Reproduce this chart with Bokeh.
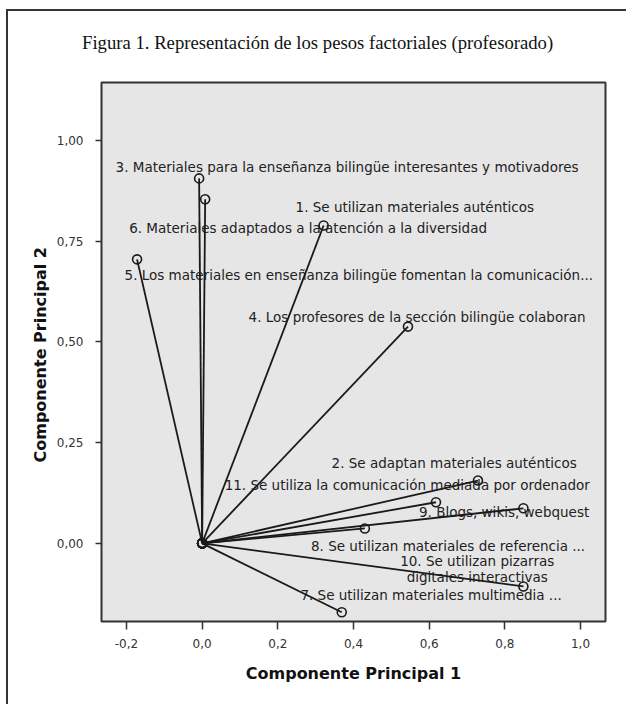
from bokeh.plotting import figure
from bokeh.models import Range1d, FixedTicker, ColumnDataSource, Div
from bokeh.layouts import column
from bokeh.embed import file_html
from bokeh.resources import INLINE
from bokeh.core.properties import value

# ---- data ----
item_labels = [
    "1. Se utilizan materiales auténticos",
    "2. Se adaptan materiales auténticos",
    "3. Materiales para la enseñanza bilingüe interesantes y motivadores",
    "4. Los profesores de la sección bilingüe colaboran",
    "5. Los materiales en enseñanza bilingüe fomentan la comunicación...",
    "6. Materiales adaptados a la atención a la diversidad",
    "7. Se utilizan materiales multimedia ...",
    "8. Se utilizan materiales de referencia ...",
    "9. Blogs, wikis, webquest",
    "10. Se utilizan pizarras\ndigitales interactivas",
    "11. Se utiliza la comunicación mediada por ordenador",
]
comp1 = [0.321, 0.729, -0.008, 0.544, -0.172, 0.008, 0.369, 0.430, 0.849, 0.849, 0.618]
comp2 = [0.789, 0.156, 0.906, 0.538, 0.705, 0.854, -0.171, 0.037, 0.087, -0.107, 0.102]

# label anchor positions (layout, in data units)
label_x = [0.562, 0.666, 0.383, 0.568, 0.414, 0.280, 0.605, 0.650, 0.798, 0.727, 0.542]
label_y = [0.834, 0.199, 0.933, 0.561, 0.665, 0.784, -0.129, -0.007, 0.077, -0.063, 0.146]

x_ticks = [-0.2, 0.0, 0.2, 0.4, 0.6, 0.8, 1.0]
x_tick_labels = ["-0,2", "0,0", "0,2", "0,4", "0,6", "0,8", "1,0"]
y_ticks = [0.0, 0.25, 0.5, 0.75, 1.0]
y_tick_labels = ["0,00", "0,25", "0,50", "0,75", "1,00"]

title_text = "Figura 1. Representación de los pesos factoriales (profesorado)"
x_title = "Componente Principal 1"
y_title = "Componente Principal  2"

# ---- title block ----
title_div = Div(
    width=608, height=59,
    text=('<div style="padding-top:18px;padding-left:69px;'
          "font-family:'Liberation Serif';font-size:18.7px;color:#111111;"
          'white-space:nowrap;line-height:1;margin:0">' + title_text + '</div>'),
)

# ---- figure ----
p = figure(
    width=618, height=624,
    output_backend="svg", toolbar_location=None,
    x_range=Range1d(-0.266, 1.066), y_range=Range1d(-0.194, 1.144),
    min_border_left=93, min_border_right=21, min_border_top=2, min_border_bottom=83,
)

p.background_fill_color = "#e6e6e6"
p.border_fill_color = "white"
p.outline_line_color = "#333333"
p.outline_line_width = 2
p.grid.visible = False

p.xaxis.ticker = FixedTicker(ticks=x_ticks)
p.xaxis.major_label_overrides = dict(zip(x_ticks, x_tick_labels))
p.yaxis.ticker = FixedTicker(ticks=y_ticks)
p.yaxis.major_label_overrides = dict(zip(y_ticks, y_tick_labels))

for ax in (p.xaxis[0], p.yaxis[0]):
    ax.axis_line_color = None
    ax.minor_tick_line_color = None
    ax.major_tick_in = 0
    ax.major_tick_line_color = "#333333"
    ax.major_tick_line_width = 1.5
    ax.major_label_text_font = "DejaVu Sans"
    ax.major_label_text_font_size = "12px"
    ax.major_label_text_color = "#333333"
    ax.axis_label_text_font = "DejaVu Sans"
    ax.axis_label_text_font_size = "16px"
    ax.axis_label_text_font_style = "bold"
    ax.axis_label_text_color = "#111111"

p.xaxis.major_tick_out = 8
p.xaxis.major_label_standoff = 9
p.xaxis.axis_label = x_title
p.xaxis.axis_label_standoff = 13
p.yaxis.major_tick_out = 6
p.yaxis.major_label_standoff = 12
p.yaxis.axis_label = y_title
p.yaxis.axis_label_standoff = 4

src = ColumnDataSource(dict(
    x0=[0.0] * len(comp1), y0=[0.0] * len(comp2),
    x=comp1, y=comp2, lx=label_x, ly=label_y, label=item_labels,
))

p.text(x="lx", y="ly", text="label", source=src,
       text_font=value("DejaVu Sans"), text_font_size="13.5px",
       text_align="center", text_baseline="middle", text_color="#222222",
       text_line_height=1.0)
p.segment(x0="x0", y0="y0", x1="x", y1="y", source=src,
          line_color="#1a1a1a", line_width=1.8)
p.scatter(x="x", y="y", source=src, size=9, marker="circle",
          fill_color=None, line_color="#1a1a1a", line_width=1.6)
p.scatter(x="x0", y="y0", source=src, size=9, marker="circle",
          fill_color=None, line_color="#1a1a1a", line_width=1.6)

page = column(title_div, p, spacing=0,
              styles={"border-left": "2px solid #333", "border-top": "2px solid #333",
                      "margin-left": "6px", "margin-top": "9px"})

open("out.html", "w").write(file_html(page, INLINE))
